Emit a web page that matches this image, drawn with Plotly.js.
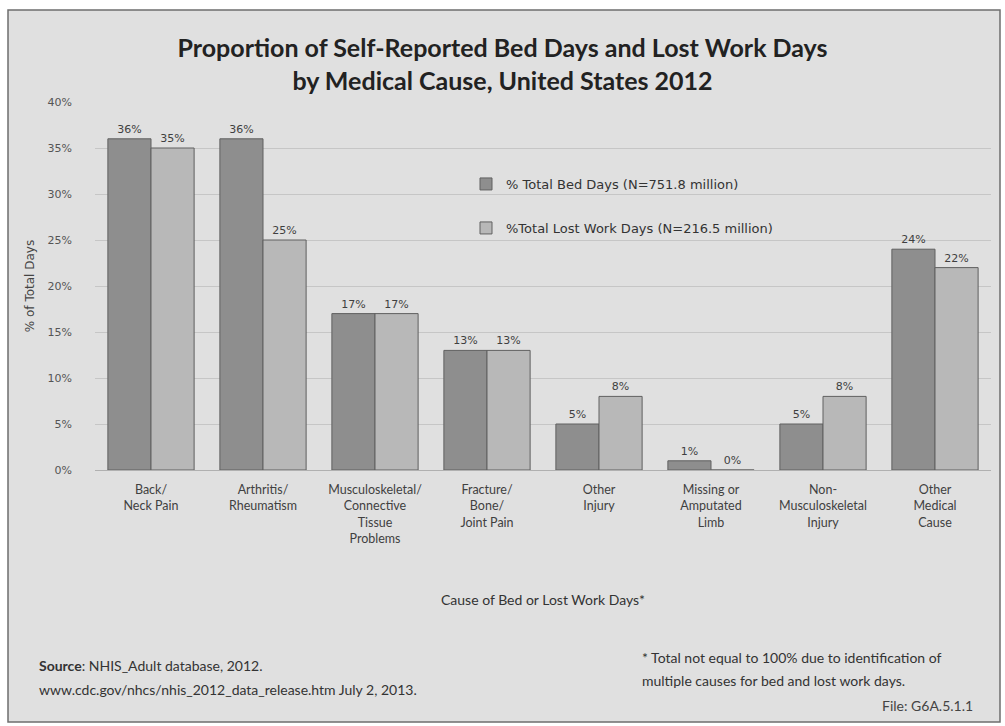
<!DOCTYPE html>
<html>
<head>
<meta charset="utf-8">
<script src="https://cdn.plot.ly/plotly-3.0.1.min.js"></script>
<style>html,body{margin:0;padding:0;background:#fff;}#chart{width:1005px;height:726px;}</style>
</head>
<body>
<div id="chart"></div>
<script>
const categories = [
  "Back/<br>Neck Pain",
  "Arthritis/<br>Rheumatism",
  "Musculoskeletal/<br>Connective<br>Tissue<br>Problems",
  "Fracture/<br>Bone/<br>Joint Pain",
  "Other<br>Injury",
  "Missing or<br>Amputated<br>Limb",
  "Non-<br>Musculoskeletal<br>Injury",
  "Other<br>Medical<br>Cause"
];
const bedDays = [36, 36, 17, 13, 5, 1, 5, 24];
const lostWorkDays = [35, 25, 17, 13, 8, 0, 8, 22];
const seriesNames = ["% Total Bed Days (N=751.8 million)", "%Total Lost Work Days (N=216.5 million)"];
const yTickVals = [0, 5, 10, 15, 20, 25, 30, 35, 40];
const yTickText = ["0%", "5%", "10%", "15%", "20%", "25%", "30%", "35%", "40%"];

const W = 1005, H = 726;
const M = {l: 95, r: 14, t: 102, b: 256};
const PW = W - M.l - M.r, PH = H - M.t - M.b;
const px = x => (x - M.l) / PW;
const py = y => (H - M.b - y) / PH;

const labelFont = {family: "DejaVu Sans", size: 11, color: "#3f3f3f"};
const noteFont = {family: "Lato, sans-serif", size: 14, color: "#333333"};

const traces = [
  {
    type: "bar", x: categories, y: bedDays, name: seriesNames[0],
    marker: {color: "#8e8e8e", line: {color: "#606060", width: 1}},
    text: bedDays.map(v => v + "%"), textposition: "outside",
    textfont: labelFont, cliponaxis: false, constraintext: "none",
    hoverinfo: "skip", legend: "legend"
  },
  {
    type: "bar", x: categories, y: lostWorkDays, name: seriesNames[1],
    marker: {color: "#b8b8b8", line: {color: "#606060", width: 1}},
    text: lostWorkDays.map(v => v + "%"), textposition: "outside",
    textfont: labelFont, cliponaxis: false, constraintext: "none",
    hoverinfo: "skip", legend: "legend2"
  }
];

const layout = {
  width: W, height: H,
  margin: M,
  paper_bgcolor: "#ffffff",
  plot_bgcolor: "rgba(0,0,0,0)",
  font: {family: "Lato, sans-serif", color: "#404040"},
  title: {
    text: "<b>Proportion of Self-Reported Bed Days and Lost Work Days<br>by Medical Cause, United States 2012</b>",
    font: {family: "Lato, sans-serif", size: 25, color: "#222222"},
    x: 0.5, xanchor: "center", y: 1 - 57 / H, yanchor: "top"
  },
  barmode: "group",
  bargap: 0.23,
  bargroupgap: 0,
  xaxis: {
    type: "category",
    tickfont: {family: "Lato, sans-serif", size: 12.5, color: "#404040"},
    ticks: "", showline: true, linecolor: "#b0b0b0", linewidth: 1,
    ticklabelstandoff: 8,
    title: {text: "Cause of Bed or Lost Work Days*", font: {family: "Lato, sans-serif", size: 14, color: "#333333"}, standoff: 50},
    automargin: false, fixedrange: true
  },
  yaxis: {
    range: [0, 40],
    tickvals: yTickVals, ticktext: yTickText,
    tickfont: {family: "DejaVu Sans", size: 11, color: "#555555"},
    showgrid: true, gridcolor: "#c6c6c6", gridwidth: 1,
    zeroline: false, ticks: "", ticklabelstandoff: 22,
    title: {text: "% of Total Days", font: {family: "DejaVu Sans", size: 12, color: "#444444"}, standoff: 10},
    automargin: false, fixedrange: true
  },
  showlegend: true,
  legend: {
    x: px(466), y: py(184), xanchor: "left", yanchor: "middle",
    bgcolor: "rgba(0,0,0,0)", font: {family: "DejaVu Sans", size: 13, color: "#333333"}
  },
  legend2: {
    x: px(466), y: py(228), xanchor: "left", yanchor: "middle",
    bgcolor: "rgba(0,0,0,0)", font: {family: "DejaVu Sans", size: 13, color: "#333333"}
  },
  shapes: [{
    type: "rect", xref: "paper", yref: "paper",
    x0: px(8), x1: px(1000), y0: py(722), y1: py(10),
    line: {color: "#6e6e6e", width: 1.5}, fillcolor: "#e0e0e0", layer: "below"
  }],
  annotations: [
    {xref: "paper", yref: "paper", x: px(37), y: py(665), xanchor: "left", yanchor: "middle", showarrow: false,
     text: "<b>Source</b>: NHIS_Adult database, 2012.", font: noteFont},
    {xref: "paper", yref: "paper", x: px(37), y: py(689), xanchor: "left", yanchor: "middle", showarrow: false,
     text: "www.cdc.gov/nhcs/nhis_2012_data_release.htm July 2, 2013.", font: noteFont},
    {xref: "paper", yref: "paper", x: px(640), y: py(657), xanchor: "left", yanchor: "middle", showarrow: false,
     text: "* Total not equal to 100% due to identification of", font: noteFont},
    {xref: "paper", yref: "paper", x: px(640), y: py(680), xanchor: "left", yanchor: "middle", showarrow: false,
     text: "multiple causes for bed and lost work days.", font: noteFont},
    {xref: "paper", yref: "paper", x: px(975), y: py(705), xanchor: "right", yanchor: "middle", showarrow: false,
     text: "File: G6A.5.1.1", font: {family: "Lato, sans-serif", size: 14, color: "#444444"}}
  ]
};

Plotly.newPlot("chart", traces, layout, {displayModeBar: false, staticPlot: true});
</script>
</body>
</html>
